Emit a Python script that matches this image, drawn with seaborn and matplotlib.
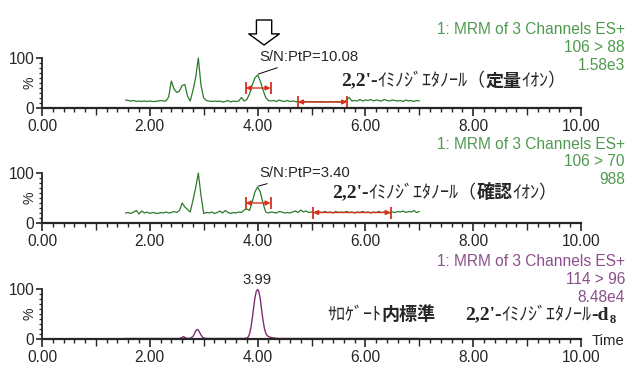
import numpy as np
import matplotlib
matplotlib.use("Agg")
import matplotlib.pyplot as plt
from matplotlib import font_manager as fm
from matplotlib.ticker import FixedLocator
import seaborn as sns

# ---------------- data ----------------
trace_t = np.round(np.arange(1.55, 7.001, 0.05), 2)   # sampling grid (min)

quant_y = [16, 15, 14, 15, 13, 14, 13, 14, 13, 14,
           13, 13, 14, 15, 14, 14, 22, 54, 38, 31,
           34, 45, 47, 24, 14, 35, 60, 100, 45, 20,
           15, 14, 13, 14, 13, 14, 12, 13, 15, 12,
           14, 13, 14, 21, 14, 17, 28, 46, 60, 66,
           54, 36, 21, 15, 14, 15, 13, 16, 14, 13,
           15, 13, 14, 13, 12, 13, 12, 13, 12, 13,
           12, 13, 12, 13, 12, 12, 13, 12, 13, 12,
           13, 12, 16, 21, 14, 15, 14, 17, 14, 16,
           15, 17, 14, 16, 15, 14, 17, 15, 14, 16,
           15, 14, 15, 13, 16, 14, 15, 13, 15, 14]

confirm_y = [20, 21, 19, 22, 25, 18, 24, 20, 22, 19,
             21, 20, 19, 21, 20, 22, 20, 21, 23, 21,
             25, 40, 32, 27, 22, 45, 70, 100, 55, 19,
             21, 20, 22, 19, 21, 24, 20, 25, 21, 19,
             21, 20, 22, 21, 26, 28, 25, 42, 62, 72,
             62, 40, 22, 20, 22, 21, 20, 23, 22, 20,
             21, 20, 22, 24, 21, 26, 22, 24, 21, 22,
             21, 20, 22, 21, 23, 21, 22, 20, 23, 21,
             22, 21, 23, 21, 22, 20, 22, 21, 23, 21,
             22, 20, 22, 21, 23, 21, 22, 21, 20, 22,
             21, 23, 22, 24, 21, 23, 22, 25, 21, 23]

surr_t = [1.55, 2.00, 2.50, 2.55, 2.60, 2.625, 2.65, 2.70, 2.75, 2.80,
          2.825, 2.85, 2.875, 2.90, 2.925, 2.95, 2.975, 3.00, 3.05, 3.50,
          3.75, 3.80, 3.825, 3.85, 3.875, 3.90, 3.925, 3.95, 3.975, 4.00,
          4.015, 4.025, 4.05, 4.075, 4.10, 4.125, 4.15, 4.175, 4.20, 4.25,
          4.30, 4.35, 4.40, 5.00, 6.00, 7.00]
surr_y = [1, 1, 1, 1, 3, 5, 3, 1, 1.5, 5,
          10, 16, 19, 18, 13, 8, 4, 2, 1, 1,
          1, 2, 4, 10, 22, 40, 62, 82, 95, 99,
          97, 94, 80, 58, 38, 22, 12, 7, 5, 3,
          2, 1.5, 1, 1, 1, 1]

x_ticks = [0, 2, 4, 6, 8, 10]
x_tick_labels = ["0.00", "2.00", "4.00", "6.00", "8.00", "10.00"]
y_ticks = [0, 100]
y_tick_labels = ["0", "100"]

quant_brackets = [(3.78, 4.24, 40), (4.75, 5.66, 12)]
confirm_brackets = [(3.78, 4.24, 40), (5.03, 6.47, 21)]

header_quant = ["1: MRM of 3 Channels ES+", "106 > 88", "1.58e3"]
header_confirm = ["1: MRM of 3 Channels ES+", "106 > 70", "988"]
header_surr = ["1: MRM of 3 Channels ES+", "114 > 96", "8.48e4"]

sn_quant = "S/N:PtP=10.08"
sn_confirm = "S/N:PtP=3.40"
rt_surr = "3.99"

# ---------------- style ----------------
sns.set_style("ticks")
names = {f.name for f in fm.fontManager.ttflist}
if "Liberation Sans Narrow" in names:
    LAT, LS = "Liberation Sans Narrow", 13.5
else:
    LAT, LS = "Liberation Sans", 11.2
plt.rcParams["font.family"] = [LAT, "DejaVu Sans"]
JP = ["Noto Sans CJK JP", "DejaVu Sans"]
SERIF = "Liberation Serif"

GREEN_LINE = "#2b7a2b"
GREEN_TXT = "#4f9a4f"
PURPLE_LINE = "#7d2d70"
PURPLE_TXT = "#8b4f8b"
RED = "#d8321e"

W, H = 633, 379
fig = plt.figure(figsize=(6.33, 3.79), dpi=100)


def fx(x):
    return x / W


def fy(y):
    return 1 - y / H


zeros = [108, 223, 339]
axes = [fig.add_axes([42 / W, 1 - z / H, 539 / W, 50 / H]) for z in zeros]

minor_x = [round(v, 1) for v in np.arange(0, 10.01, 0.2) if abs(v / 2 - round(v / 2)) > 1e-6]
for ax in axes:
    ax.set_xlim(0, 10)
    ax.set_ylim(0, 100)
    for s in ["top", "right"]:
        ax.spines[s].set_visible(False)
    ax.spines["left"].set_linewidth(1.3)
    ax.spines["bottom"].set_linewidth(1.6)
    ax.set_xticks(x_ticks)
    ax.set_xticklabels(x_tick_labels)
    ax.xaxis.set_minor_locator(FixedLocator(minor_x))
    ax.set_yticks(y_ticks)
    ax.set_yticklabels(y_tick_labels)
    ax.yaxis.set_minor_locator(FixedLocator(list(range(10, 100, 10))))
    ax.tick_params(axis="x", which="major", length=6, width=1.2, pad=2, labelsize=LS)
    ax.tick_params(axis="x", which="minor", length=3, width=1.0)
    ax.tick_params(axis="y", which="major", length=4, width=1.2, pad=1.5, labelsize=LS)
    ax.tick_params(axis="y", which="minor", length=2.5, width=0.9)
    for t, v in zip(ax.xaxis.get_minor_ticks(), minor_x):
        if abs(v - round(v)) < 1e-6:
            t.tick1line.set_markersize(5)
    ax.text(-0.023, 0.5, "%", transform=ax.transAxes, rotation=90,
            ha="center", va="center", fontsize=LS - 1)

sns.lineplot(x=trace_t, y=quant_y, ax=axes[0], color=GREEN_LINE, lw=0.9,
             estimator=None, sort=False, clip_on=False)
sns.lineplot(x=trace_t, y=confirm_y, ax=axes[1], color=GREEN_LINE, lw=0.9,
             estimator=None, sort=False, clip_on=False)
sns.lineplot(x=surr_t, y=surr_y, ax=axes[2], color=PURPLE_LINE, lw=1.0,
             estimator=None, sort=False, clip_on=False)
for ax in axes:
    ax.set_xlabel("")
    ax.set_ylabel("")


def bracket(ax, x0, x1, y):
    ax.annotate("", xy=(x1, y), xytext=(x0, y),
                arrowprops=dict(arrowstyle="<|-|>", color=RED, lw=1.0,
                                mutation_scale=7, shrinkA=0, shrinkB=0))
    ax.plot([x0, x1], [y, y], ls="", marker="|", ms=9, mew=1.3, color=RED)


for b in quant_brackets:
    bracket(axes[0], *b)
for b in confirm_brackets:
    bracket(axes[1], *b)

# open down arrow above the quant peak
axes[0].annotate("", xy=(4.12, 126), xytext=(4.12, 176), annotation_clip=False,
                 arrowprops=dict(arrowstyle="simple,head_length=0.4,head_width=1.1,tail_width=0.55",
                                 fc="white", ec="black", lw=1.0, mutation_scale=20,
                                 shrinkA=0, shrinkB=0))

axes[0].annotate(sn_quant, xy=(3.99, 67), xytext=(4.04, 102), ha="left", va="center",
                 fontsize=LS - 0.5, annotation_clip=False,
                 arrowprops=dict(arrowstyle="-", lw=0.7, color="black", shrinkA=1, shrinkB=1))
axes[1].annotate(sn_confirm, xy=(3.99, 73), xytext=(4.04, 100), ha="left", va="center",
                 fontsize=LS - 0.5, annotation_clip=False,
                 arrowprops=dict(arrowstyle="-", lw=0.7, color="black", shrinkA=1, shrinkB=1))
axes[2].text(3.99, 118, rt_surr, ha="center", va="center", fontsize=LS - 0.5, clip_on=False)
axes[2].text(10.2, -4, "Time", ha="left", va="center", fontsize=LS - 0.5, clip_on=False)

# channel headers
for lines, ys, col in [(header_quant, [30, 48, 65], GREEN_TXT),
                       (header_confirm, [145, 162, 180], GREEN_TXT),
                       (header_surr, [262, 280, 297], PURPLE_TXT)]:
    for s, y in zip(lines, ys):
        fig.text(fx(625), fy(y), s, ha="right", va="center", color=col, fontsize=LS)


def chain(ax, x_px, y_px, pieces):
    s0, kw0 = pieces[0]
    prev = fig.text(fx(x_px), fy(y_px), s0, ha="left", va="center", **kw0)
    for s, kw in pieces[1:]:
        kw = dict(kw)
        yf = kw.pop("yfrac", 0.5)
        prev = ax.annotate(s, xy=(1, yf), xycoords=prev, ha="left", va="center",
                           annotation_clip=False, **kw)


num = dict(family=SERIF, weight="bold", fontsize=14)
kana = dict(family=JP, fontsize=13)
kanji = dict(family=JP, fontsize=13, weight="bold")

chain(axes[0], 341, 81, [("2,2'-", num), ("ｲﾐﾉｼﾞｴﾀﾉｰﾙ（", kana), ("定量", kanji), ("ｲｵﾝ）", kana)])
chain(axes[1], 332, 193, [("2,2'-", num), ("ｲﾐﾉｼﾞｴﾀﾉｰﾙ（", kana), ("確認", kanji), ("ｲｵﾝ）", kana)])
chain(axes[2], 327, 315, [("ｻﾛｹﾞｰﾄ", kana), ("内標準", kanji)])
chain(axes[2], 465, 315, [("2,2'-", num), ("ｲﾐﾉｼﾞｴﾀﾉｰﾙ", kana),
                          ("-d", dict(family=SERIF, weight="bold", fontsize=14)),
                          ("8", dict(family=SERIF, weight="bold", fontsize=9, yfrac=0.2))])

fig.savefig("out.png", dpi=100)
